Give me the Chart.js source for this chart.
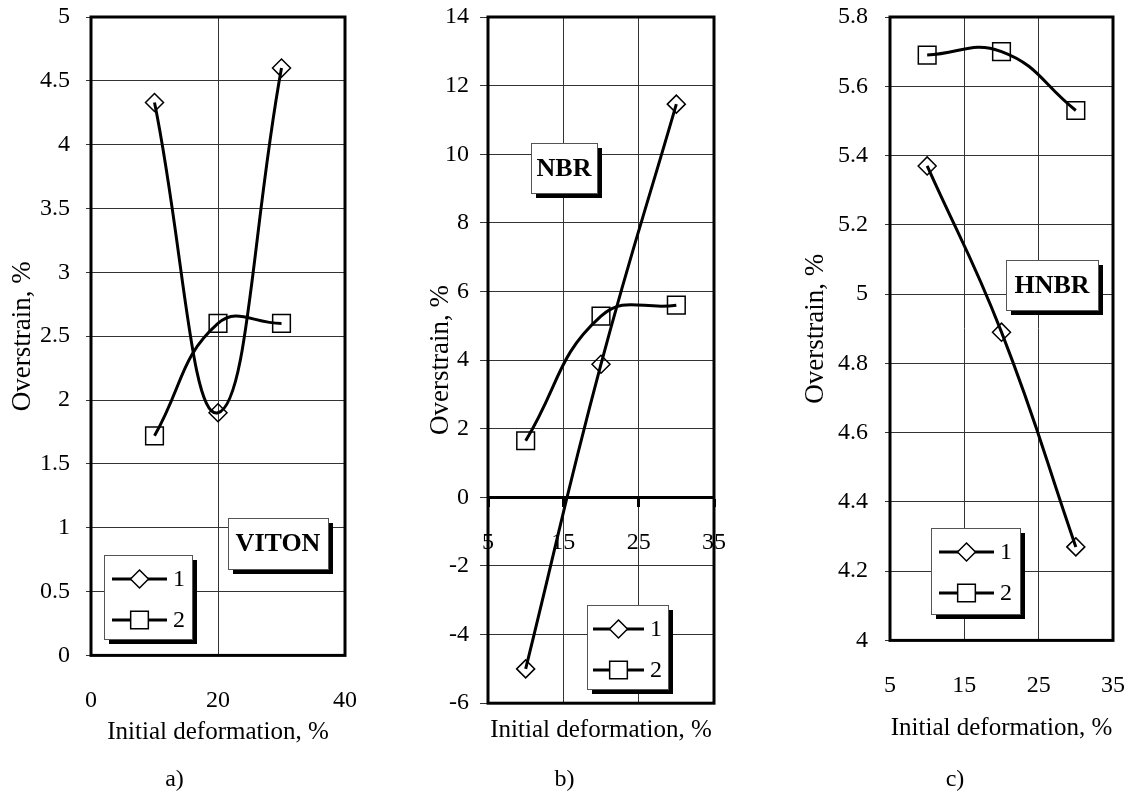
<!DOCTYPE html>
<html>
<head>
<meta charset="utf-8">
<title>Overstrain vs initial deformation</title>
<script src="https://cdn.jsdelivr.net/npm/chart.js@4.4.1/dist/chart.umd.min.js"></script>
<style>
  html, body { margin: 0; padding: 0; background: #fff; overflow: hidden; }
  body { width: 1130px; height: 794px; position: relative; }
  .panel { position: absolute; top: 0; height: 794px; }
</style>
</head>
<body>
<div class="panel" style="left:0;width:374px"><canvas id="chartA"></canvas></div>
<div class="panel" style="left:415px;width:334px"><canvas id="chartB"></canvas></div>
<div class="panel" style="left:795px;width:350px"><canvas id="chartC"></canvas></div>

<script>
// values
const deformation = [10, 20, 30];
const vitonCurve1 = [4.33, 1.90, 4.60];
const vitonCurve2 = [1.72, 2.60, 2.60];
const nbrCurve1 = [-5.0, 3.88, 11.46];
const nbrCurve2 = [1.65, 5.28, 5.6];
const hnbrCurve1 = [5.37, 4.89, 4.27];
const hnbrCurve2 = [5.69, 5.70, 5.53];
const seriesNames = ['1', '2'];
const materials = ['VITON', 'NBR', 'HNBR'];
const panelNames = ['a)', 'b)', 'c)'];
const xTitle = 'Initial deformation, %';
const yTitle = 'Overstrain, %';

const SERIF = '"Liberation Serif", "Times New Roman", serif';
Chart.defaults.font.family = SERIF;
Chart.defaults.color = '#000';
Chart.defaults.animation = false;

function points(xs, ys) {
  return xs.map((x, i) => ({ x: x, y: ys[i] }));
}

function series(label, ys, style) {
  return {
    label: label,
    data: points(deformation, ys),
    borderColor: '#000',
    borderWidth: 3,
    tension: 0.45,
    pointStyle: style,
    pointRadius: style === 'rect' ? 12.5 : 9,
    pointHoverRadius: style === 'rect' ? 12.5 : 9,
    pointBorderWidth: 1.5,
    pointBorderColor: '#000',
    pointBackgroundColor: 'rgba(0,0,0,0)'
  };
}

const tickText = v => String(+v.toFixed(2));

// tick padding would otherwise also push the plot area inwards
const noEdgePadding = s => {
  s.paddingTop = 0;
  s.paddingBottom = 0;
  s.paddingLeft = 0;
  s.paddingRight = 0;
};

function marker(ctx, style, r, x, y) {
  ctx.beginPath();
  if (style === 'rect') {
    const s = r * Math.SQRT1_2;
    ctx.rect(x - s, y - s, 2 * s, 2 * s);
  } else {
    ctx.moveTo(x, y - r);
    ctx.lineTo(x + r, y);
    ctx.lineTo(x, y + r);
    ctx.lineTo(x - r, y);
    ctx.closePath();
  }
  ctx.fillStyle = '#fff';
  ctx.fill();
  ctx.lineWidth = 1.5;
  ctx.strokeStyle = '#000';
  ctx.stroke();
}

function shadowBox(ctx, x, y, w, h) {
  ctx.fillStyle = '#000';
  ctx.fillRect(x + 5, y + 5, w, h);
  ctx.fillStyle = '#fff';
  ctx.fillRect(x, y, w, h);
  ctx.lineWidth = 1;
  ctx.strokeStyle = '#555';
  ctx.strokeRect(x + 0.5, y + 0.5, w, h);
}

// thick frame around the plot area
const framePlugin = {
  id: 'frame',
  beforeDatasetsDraw(chart) {
    const { ctx, chartArea: a } = chart;
    ctx.save();
    ctx.strokeStyle = '#000';
    ctx.lineWidth = 3;
    ctx.strokeRect(a.left, a.top, a.right - a.left, a.bottom - a.top);
    ctx.restore();
  }
};

// material label and line+marker legend, both with a drop shadow
const notesPlugin = {
  id: 'notes',
  afterDatasetsDraw(chart, args, opts) {
    const { ctx, chartArea: a } = chart;
    const w = a.right - a.left, h = a.bottom - a.top;
    ctx.save();

    const m = opts.material;
    let x = Math.round(a.left + m.fx * w), y = Math.round(a.top + m.fy * h);
    shadowBox(ctx, x, y, m.w, m.h);
    ctx.fillStyle = '#000';
    ctx.font = 'bold 26px ' + SERIF;
    ctx.textAlign = 'center';
    ctx.textBaseline = 'middle';
    ctx.fillText(m.text, x + m.w / 2, y + m.h / 2 + 1);

    const l = opts.legend;
    x = Math.round(a.left + l.fx * w);
    y = Math.round(a.top + l.fy * h);
    shadowBox(ctx, x, y, l.w, l.h);
    ctx.font = '24px ' + SERIF;
    ctx.textAlign = 'left';
    chart.data.datasets.forEach((ds, i) => {
      const ry = y + 24 + i * 41;
      ctx.beginPath();
      ctx.moveTo(x + l.pad, ry);
      ctx.lineTo(x + l.pad + l.line, ry);
      ctx.lineWidth = 3;
      ctx.strokeStyle = '#000';
      ctx.stroke();
      marker(ctx, ds.pointStyle, ds.pointRadius, x + l.pad + l.line / 2, ry);
      ctx.fillStyle = '#000';
      ctx.fillText(ds.label, x + l.pad + l.line + 6, ry + 1);
    });
    ctx.restore();
  }
};

const gridColor = '#333';
const tickFont = { size: 24 };
const titleFont = { size: 25 };
const yTitleFont = { size: 27 };

new Chart(document.getElementById('chartA'), {
  type: 'line',
  data: {
    datasets: [
      series(seriesNames[0], vitonCurve1, 'rectRot'),
      series(seriesNames[1], vitonCurve2, 'rect')
    ]
  },
  options: {
    responsive: true,
    maintainAspectRatio: false,
    layout: { padding: { left: 4, right: 29, top: 17, bottom: 0 } },
    scales: {
      x: {
        type: 'linear', min: 0, max: 40,
        afterFit: noEdgePadding,
        ticks: { stepSize: 20, font: tickFont, padding: 31, callback: tickText },
        grid: { color: gridColor, lineWidth: 1, drawTicks: false },
        border: { display: false },
        title: { display: true, text: xTitle, font: titleFont, padding: { top: -29, bottom: 4 } }
      },
      y: {
        min: 0, max: 5,
        afterFit: noEdgePadding,
        ticks: { stepSize: 0.5, font: tickFont, padding: 16, callback: tickText },
        grid: { color: gridColor, lineWidth: 1, tickLength: 5 },
        border: { display: false },
        title: { display: true, text: yTitle, font: yTitleFont, padding: { top: 3, bottom: -15.4 } }
      }
    },
    plugins: {
      legend: { display: false },
      tooltip: { enabled: false },
      title: { display: true, text: panelNames[0], position: 'bottom', font: { size: 24, weight: 'normal' }, padding: { top: 14, bottom: 0 } },
      notes: {
        material: { text: materials[0], fx: 0.539, fy: 0.785, w: 100, h: 51 },
        legend: { fx: 0.051, fy: 0.843, w: 88, h: 84, pad: 8, line: 55 }
      }
    }
  },
  plugins: [framePlugin, notesPlugin]
});

new Chart(document.getElementById('chartB'), {
  type: 'line',
  data: {
    datasets: [
      series(seriesNames[0], nbrCurve1, 'rectRot'),
      series(seriesNames[1], nbrCurve2, 'rect')
    ]
  },
  options: {
    responsive: true,
    maintainAspectRatio: false,
    layout: { padding: { left: 0, right: 35, top: 17, bottom: 0 } },
    scales: {
      x: {
        type: 'linear', min: 5, max: 35, position: { y: 0 },
        afterFit: noEdgePadding,
        ticks: { stepSize: 10, font: tickFont, padding: 23, callback: tickText },
        grid: { color: gridColor, lineWidth: 1, tickLength: 8, tickWidth: 3, tickColor: '#000' },
        border: { display: true, width: 3, color: '#000' }
      },
      x2: {
        type: 'linear', position: 'bottom',
        ticks: { display: false },
        grid: { display: false, drawTicks: false },
        border: { display: false },
        title: { display: true, text: xTitle, font: titleFont, padding: { top: 12, bottom: 4 } }
      },
      y: {
        min: -6, max: 14,
        afterFit: noEdgePadding,
        ticks: { stepSize: 2, font: tickFont, padding: 11, callback: tickText },
        grid: { color: gridColor, lineWidth: 1, tickLength: 8 },
        border: { display: false },
        title: { display: true, text: yTitle, font: yTitleFont, padding: { top: 9.8, bottom: -23.2 } }
      }
    },
    plugins: {
      legend: { display: false },
      tooltip: { enabled: false },
      title: { display: true, text: panelNames[1], position: 'bottom', font: { size: 24, weight: 'normal' }, padding: { top: 16, bottom: 0 } },
      notes: {
        material: { text: materials[1], fx: 0.19, fy: 0.184, w: 66, h: 50 },
        legend: { fx: 0.438, fy: 0.857, w: 81, h: 84, pad: 6, line: 51 }
      }
    }
  },
  plugins: [framePlugin, notesPlugin]
});

new Chart(document.getElementById('chartC'), {
  type: 'line',
  data: {
    datasets: [
      series(seriesNames[0], hnbrCurve1, 'rectRot'),
      series(seriesNames[1], hnbrCurve2, 'rect')
    ]
  },
  options: {
    responsive: true,
    maintainAspectRatio: false,
    layout: { padding: { left: 2, right: 32, top: 17, bottom: 0 } },
    scales: {
      x: {
        type: 'linear', min: 5, max: 35,
        afterFit: noEdgePadding,
        ticks: { stepSize: 10, font: tickFont, padding: 31, callback: tickText },
        grid: { color: gridColor, lineWidth: 1, drawTicks: false },
        border: { display: false },
        title: { display: true, text: xTitle, font: titleFont, padding: { top: -18, bottom: 4 } }
      },
      y: {
        min: 4, max: 5.8,
        afterFit: noEdgePadding,
        ticks: { stepSize: 0.2, font: tickFont, padding: 17, callback: tickText },
        grid: { color: gridColor, lineWidth: 1, tickLength: 5 },
        border: { display: false },
        title: { display: true, text: yTitle, font: yTitleFont, padding: { top: 2.8, bottom: -11.2 } }
      }
    },
    plugins: {
      legend: { display: false },
      tooltip: { enabled: false },
      title: { display: true, text: panelNames[2], position: 'bottom', font: { size: 24, weight: 'normal' }, padding: { top: 18, bottom: 0 } },
      notes: {
        material: { text: materials[2], fx: 0.52, fy: 0.39, w: 92, h: 50 },
        legend: { fx: 0.184, fy: 0.819, w: 89, h: 86, pad: 8, line: 55 }
      }
    }
  },
  plugins: [framePlugin, notesPlugin]
});
</script>
</body>
</html>
